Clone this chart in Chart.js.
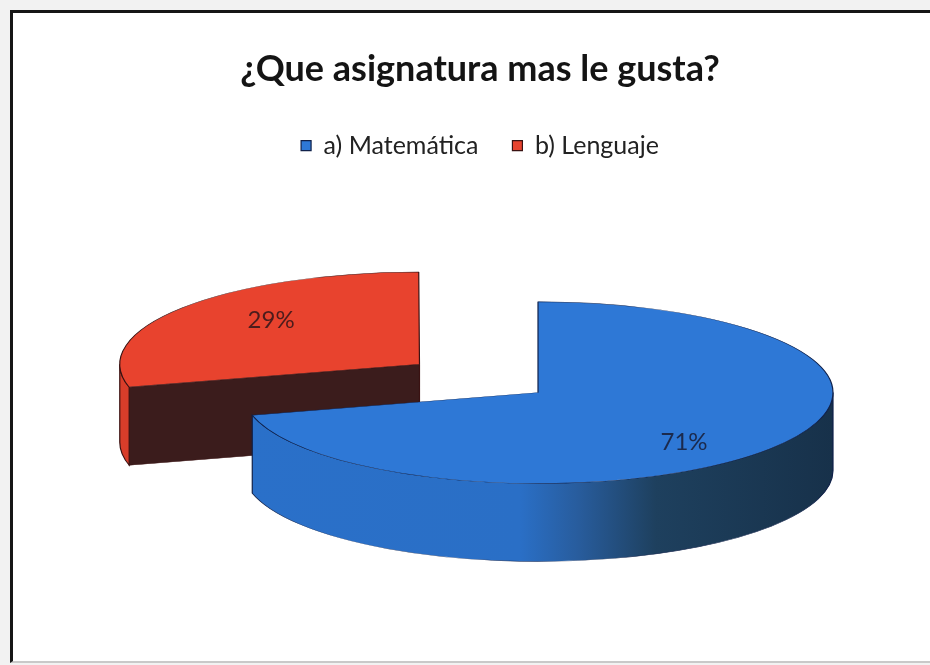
<!DOCTYPE html>
<html><head><meta charset="utf-8">
<script src="https://cdn.jsdelivr.net/npm/chart.js@4.4.1/dist/chart.umd.min.js"></script>
<style>
html,body{margin:0;padding:0;background:#f2f2f2;overflow:hidden;width:930px;height:665px;}
#wrap{position:absolute;left:0;top:0;width:930px;height:665px;overflow:hidden;}
#frame{position:absolute;left:10px;top:10px;width:1000px;height:648px;background:#fff;border-left:3px solid #161616;border-top:3px solid #161616;border-bottom:2px solid #c9c9c9;}
canvas{position:absolute;left:0;top:0;}
</style></head><body>
<div id="wrap"><div id="frame"></div><canvas id="c" width="930" height="665"></canvas></div>
<script>
// ---- data ----
const titleText = '¿Que asignatura mas le gusta?';
const categories = ['a) Matemática', 'b) Lenguaje'];
const percentages = [71, 29];

// ---- styles ----
const topColors = ['#2e78d6', '#e8432e'];
const edgeColors = ['#10214a', '#3a1212'];
const faceColors = ['#1c3550', '#3b1c1c'];
const labelColors = ['#1b2a4d', '#4c1c1c'];
const FONT = 'Lato, "Open Sans", "DejaVu Sans", sans-serif';
const RADIUS = 295;
const TILT = 0.308;
const DEPTH = 78;
const EXPLODE = 150;
const SHIFT_X = 58;
const LABEL_K = 0.71;
const LABEL_ROT = 8 * Math.PI / 180;
const LABEL_DY = 3;

function wallPath(ctx, x, y, r, lo, hi, dz) {
  ctx.beginPath();
  ctx.arc(x, y, r, lo, hi, false);
  ctx.arc(x, y + dz, r, hi, lo, true);
  ctx.closePath();
}

function geom(chart) {
  const meta = chart.getDatasetMeta(0);
  return meta.data.map((arc, i) => {
    const p = arc.getProps(['x', 'y', 'startAngle', 'endAngle', 'outerRadius', 'circumference'], true);
    const off = (arc.options.offset || 0) / 4;
    const half = (p.startAngle + p.endAngle) / 2;
    const fix = 1 - Math.sin(Math.min(Math.PI, p.circumference || 0));
    return {
      i, x: p.x + Math.cos(half) * off, y: p.y + Math.sin(half) * off,
      r: p.outerRadius + off * fix, a0: p.startAngle, a1: p.endAngle
    };
  });
}

const pie3d = {
  id: 'pie3d',
  beforeDatasetsDraw(chart) {
    const ctx = chart.ctx, ca = chart.chartArea;
    const cy = (ca.top + ca.bottom) / 2;
    ctx.save();
    ctx.translate(SHIFT_X, cy);
    ctx.scale(1, TILT);
    ctx.translate(0, -cy);
    const dz = DEPTH / TILT;
    const items = geom(chart).sort((a, b) => a.y - b.y);
    items.forEach(it => {
      const {x, y, r, a0, a1, i} = it;
      if (!isFinite(r)) return;
      ctx.lineWidth = 1.2;
      ctx.strokeStyle = edgeColors[i];
      // cut faces
      [[a0, -Math.cos(a0)], [a1, Math.cos(a1)]].forEach(([a, vis]) => {
        if (vis <= 0.001) return;
        const ex = x + r * Math.cos(a), ey = y + r * Math.sin(a);
        ctx.beginPath();
        ctx.moveTo(x, y); ctx.lineTo(ex, ey); ctx.lineTo(ex, ey + dz); ctx.lineTo(x, y + dz);
        ctx.closePath();
        ctx.fillStyle = faceColors[i];
        ctx.fill(); ctx.stroke();
      });
      // outer walls
      for (let k = -1; k <= 1; k++) {
        const lo = Math.max(a0, 2 * Math.PI * k);
        const hi = Math.min(a1, 2 * Math.PI * k + Math.PI);
        if (hi - lo <= 0.001) continue;
        let fill;
        if (i === 0) {
          fill = ctx.createLinearGradient(x - r, 0, x + r, 0);
          fill.addColorStop(0, '#2a70c9');
          fill.addColorStop(0.47, '#2a6fc6');
          fill.addColorStop(0.57, '#285c9c');
          fill.addColorStop(0.7, '#1e405e');
          fill.addColorStop(1, '#17314a');
        } else {
          fill = '#d93d2a';
        }
        wallPath(ctx, x, y, r, lo, hi, dz);
        ctx.fillStyle = fill;
        ctx.fill(); ctx.stroke();
      }
    });
  },
  afterDatasetsDraw(chart) {
    const ctx = chart.ctx, ca = chart.chartArea;
    ctx.restore();
    const cy = (ca.top + ca.bottom) / 2;
    const data = chart.data.datasets[0].data;
    ctx.save();
    ctx.font = '24px ' + FONT;
    ctx.textAlign = 'center';
    ctx.textBaseline = 'middle';
    geom(chart).forEach(it => {
      if (!isFinite(it.r)) return;
      const mid = (it.a0 + it.a1) / 2 + LABEL_ROT;
      const lx = it.x + LABEL_K * it.r * Math.cos(mid);
      const ly = it.y + LABEL_K * it.r * Math.sin(mid);
      ctx.fillStyle = labelColors[it.i];
      ctx.fillText(data[it.i] + '%', lx + SHIFT_X, cy + (ly - cy) * TILT + LABEL_DY);
    });
    ctx.restore();
  }
};

new Chart(document.getElementById('c'), {
  type: 'pie',
  data: {
    labels: categories,
    datasets: [{
      data: percentages,
      backgroundColor: topColors,
      borderColor: edgeColors,
      borderWidth: 1.2,
      offset: [0, EXPLODE * 4],
      clip: false
    }]
  },
  options: {
    responsive: false,
    animation: false,
    events: [],
    radius: RADIUS,
    cutout: '0%',
    layout: {padding: {left: 30, right: 0, top: 0, bottom: 48}},
    plugins: {
      title: {
        display: true, text: titleText, color: '#141414',
        font: {family: FONT, size: 36, weight: 'bold'},
        padding: {top: 48, bottom: 8}
      },
      legend: {
        display: true, position: 'top',
        labels: {
          boxWidth: 10, boxHeight: 10, padding: 34, color: '#222',
          font: {family: FONT, size: 25}
        }
      },
      tooltip: {enabled: false}
    }
  },
  plugins: [pie3d]
});
</script>
</body></html>
